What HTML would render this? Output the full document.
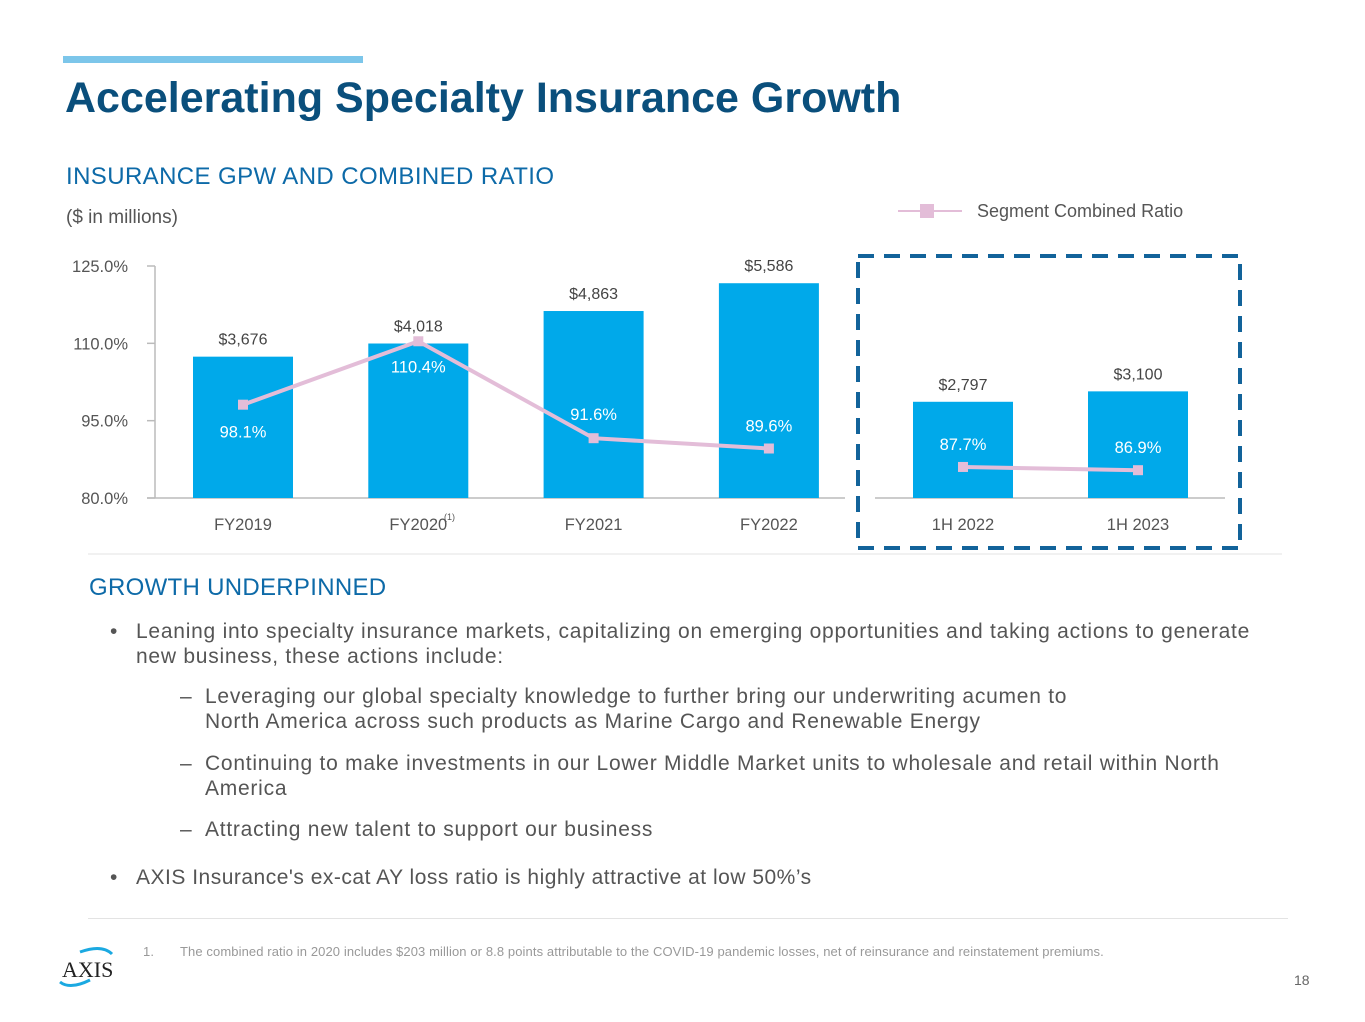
<!DOCTYPE html>
<html><head><meta charset="utf-8"><style>
body{margin:0;background:#fff;}
#page{position:relative;width:1365px;height:1022px;overflow:hidden;font-family:"Liberation Sans",sans-serif;}
.t{position:absolute;white-space:nowrap;}
.b{font-size:21px;letter-spacing:0.75px;color:#555;line-height:25px;}
</style></head><body>
<div id="page">
<div class="t" style="left:63px;top:56px;width:300px;height:7px;background:#7cc6ea"></div>
<div class="t" style="left:65px;top:74px;font-size:43px;font-weight:bold;color:#0a4f7c;letter-spacing:0px">Accelerating Specialty Insurance Growth</div>
<div class="t" style="left:66px;top:163px;font-size:24px;letter-spacing:0.4px;color:#0d6aa8">INSURANCE GPW AND COMBINED RATIO</div>
<div class="t" style="left:66px;top:207px;font-size:19px;color:#555">($ in millions)</div>

<svg id="chart" width="1365" height="600" style="position:absolute;left:0;top:0" font-family="Liberation Sans, sans-serif"></svg>

<div class="t" style="left:89px;top:574px;font-size:24px;letter-spacing:0.3px;color:#0d6aa8">GROWTH UNDERPINNED</div>
<div class="t b" style="left:110px;top:619px;white-space:normal;width:1160px">
<span style="position:absolute;left:0">•</span><div style="margin-left:26px">Leaning into specialty insurance markets, capitalizing on emerging opportunities and taking actions to generate<br>new business, these actions include:</div></div>
<div class="t b" style="left:180px;top:684px"><span style="position:absolute;left:0">–</span><div style="margin-left:25px">Leveraging our global specialty knowledge to further bring our underwriting acumen to<br>North America across such products as Marine Cargo and Renewable Energy</div></div>
<div class="t b" style="left:180px;top:751px"><span style="position:absolute;left:0">–</span><div style="margin-left:25px">Continuing to make investments in our Lower Middle Market units to wholesale and retail within North<br>America</div></div>
<div class="t b" style="left:180px;top:817px"><span style="position:absolute;left:0">–</span><div style="margin-left:25px">Attracting new talent to support our business</div></div>
<div class="t b" style="left:110px;top:865px;letter-spacing:0.5px"><span style="position:absolute;left:0">•</span><div style="margin-left:26px">AXIS Insurance's ex-cat AY loss ratio is highly attractive at low 50%’s</div></div>
<div class="t" style="left:88px;top:918px;width:1200px;height:1px;background:#e3e3e3"></div>
<div class="t" style="left:143px;top:944px;font-size:13px;letter-spacing:0.1px;color:#999"><span style="display:inline-block;width:37px">1.</span>The combined ratio in 2020 includes $203 million or 8.8 points attributable to the COVID-19 pandemic losses, net of reinsurance and reinstatement premiums.</div>
<div class="t" style="left:1294px;top:972px;font-size:14px;color:#666">18</div>
<svg class="t" style="left:50px;top:944px" width="70" height="46">
<path d="M10 38 Q20 46 40 36" stroke="#1ba9e1" stroke-width="3" fill="none"/>
<path d="M30 8 Q52 0 62 10" stroke="#1ba9e1" stroke-width="3" fill="none"/>
<text x="12" y="33" font-family="Liberation Serif, serif" font-size="22" fill="#222">AXIS</text>
</svg>
</div>
<script>
const leftCats=["FY2019","FY2020","FY2021","FY2022"];
const leftGpw=[3676,4018,4863,5586];
const leftRatio=[98.1,110.4,91.6,89.6];
const rightCats=["1H 2022","1H 2023"];
const rightGpw=[2797,3100];
const rightRatio=[87.7,86.9];
const yTicks=[80,95,110,125];
const NS="http://www.w3.org/2000/svg";
const svg=document.getElementById('chart');
function el(t,a,txt){const e=document.createElementNS(NS,t);for(const k in a)e.setAttribute(k,a[k]);if(txt!=null)e.textContent=txt;svg.appendChild(e);return e;}
const base=498;
const yL=v=>base-(v-80)*232/45;
const yR=v=>base-(v-80)*4.03;
const hL=v=>v*0.03845;
const hR=v=>v*0.0344;
const xL=i=>243+i*175.3;
const xR=i=>963+i*175;
const fmt=v=>"$"+v.toLocaleString("en-US");
let a=el('line',{x1:155,y1:266,x2:155,y2:base,stroke:'#bbb','stroke-width':1.5});

a=el('line',{x1:147,y1:base,x2:845,y2:base,stroke:'#bbb','stroke-width':1.5});

a=el('line',{x1:875,y1:base,x2:1225,y2:base,stroke:'#bbb','stroke-width':1.5});

yTicks.forEach(t=>{
 let l=el('line',{x1:147,y1:yL(t),x2:155,y2:yL(t),stroke:'#bbb','stroke-width':1.5});
 
 let tx=el('text',{x:128,y:yL(t)+6,'text-anchor':'end','font-size':16.5,fill:'#555'},t.toFixed(1)+'%');
 
});
function bars(cats,gpw,xf,hf,pre){
 cats.forEach((c,i)=>{
  const h=hf(gpw[i]);
  let r=el('rect',{x:xf(i)-50,y:base-h,width:100,height:h,fill:'#00a9ea'});
  
  let v=el('text',{x:xf(i),y:base-h-12,'text-anchor':'middle','font-size':16,fill:'#444'},fmt(gpw[i]));
  
  let cl=el('text',{x:xf(i),y:530,'text-anchor':'middle','font-size':16.5,fill:'#555'},c);
  
 });
}
bars(leftCats,leftGpw,xL,hL,'gpw');
bars(rightCats,rightGpw,xR,hR,'gpw-half');
let sup=el('text',{x:444,y:520,'font-size':9,fill:'#555'},'(1)');

function line(r,xf,yf,labDy,nm){
 let p=el('polyline',{points:r.map((v,i)=>xf(i)+','+yf(v)).join(' '),fill:'none',stroke:'#e3bdd8','stroke-width':4});
 
 r.forEach((v,i)=>{
  let m=el('rect',{x:xf(i)-5,y:yf(v)-5,width:10,height:10,fill:'#e3bdd8'});
  
  let t=el('text',{x:xf(i),y:yf(v)+labDy[i],'text-anchor':'middle','font-size':16.5,fill:'#fff'},v.toFixed(1)+'%');
  
 });
}
line(leftRatio,xL,yL,[33,31,-18,-17],'combined-ratio-line');
line(rightRatio,xR,yR,[-17,-17],'combined-ratio-line-half');
let lg=el('line',{x1:898,y1:211,x2:962,y2:211,stroke:'#e3bdd8','stroke-width':2});

lg=el('rect',{x:920,y:204,width:14,height:14,fill:'#e3bdd8'});

lg=el('text',{x:977,y:217,'font-size':18,fill:'#555'},'Segment Combined Ratio');

let bx=el('rect',{x:858,y:256,width:382,height:292,fill:'none',stroke:'#12639a','stroke-width':4,'stroke-dasharray':'16 10'});

let dv=el('line',{x1:88,y1:554,x2:1282,y2:554,stroke:'#e3e3e3','stroke-width':1});

</script>
</body></html>
